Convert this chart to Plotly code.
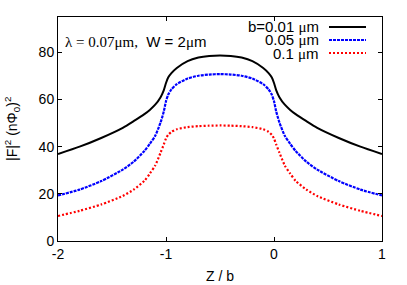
import plotly.graph_objects as go

z = [-2.0, -1.8, -1.6, -1.4, -1.3, -1.2, -1.15, -1.1, -1.05, -1.02, -1.0, -0.98, -0.95, -0.9, -0.8, -0.7, -0.6,
     -0.5, -0.4, -0.3, -0.2, -0.1, -0.05, -0.02, 0.0, 0.02, 0.05, 0.1, 0.15, 0.2, 0.3, 0.4, 0.6, 0.8, 1.0]

f_b001 = [36.9, 40.0, 43.7, 48.0, 50.8, 53.8, 55.6, 57.8, 61.0, 64.0, 67.0, 69.3, 71.2, 73.4, 76.3, 77.8, 78.5,
          78.7, 78.5, 77.8, 76.3, 73.4, 71.2, 69.3, 67.0, 64.0, 61.0, 57.8, 55.6, 53.8, 50.8, 48.0, 43.7, 40.0, 36.9]
f_b005 = [19.3, 21.8, 25.4, 30.3, 33.6, 38.2, 41.2, 44.6, 50.3, 55.0, 59.3, 62.0, 64.3, 66.5, 68.9, 70.1, 70.6,
          70.8, 70.6, 70.1, 68.9, 66.5, 64.3, 62.0, 59.3, 55.0, 50.3, 44.6, 41.2, 38.2, 33.6, 30.3, 25.4, 21.8, 19.3]
f_b01 = [10.6, 12.8, 15.5, 19.1, 21.8, 25.5, 28.6, 32.0, 37.5, 41.0, 43.5, 45.0, 46.3, 47.4, 48.3, 48.7, 48.9,
         49.0, 48.9, 48.7, 48.3, 47.4, 46.3, 45.0, 43.5, 41.0, 37.5, 32.0, 28.6, 25.5, 21.8, 19.1, 15.5, 12.8, 10.6]

labels = ["b=0.01 \u03bcm", "0.05 \u03bcm", "0.1 \u03bcm"]
colors = ["#000000", "#0000ff", "#ff0000"]
dashes = ["solid", "3px,1px", "2px,2px"]
series = [f_b001, f_b005, f_b01]

x_ticks = [-2, -1, 0, 1]
y_ticks = [0, 20, 40, 60, 80]
x_title = "Z / b"
y_title = "|F|<sup>2</sup> (n\u03a6<sub>0</sub>)<sup>2</sup>"

FONT = "Liberation Sans, Arial, sans-serif"
SERIF = "Liberation Serif, Times New Roman, serif"
FS = 14
FS_KEY = 15

# plot area in pixels (left, top, width, height) for placing layout texts
PL, PT, PW, PH = 58, 17, 324, 224


def px(xp):
    return (xp - PL) / PW


def py(yp):
    return 1 - (yp - PT) / PH


fig = go.Figure()
for ys, lab, c, d in zip(series, labels, colors, dashes):
    fig.add_trace(go.Scatter(x=z, y=ys, mode="lines", name=lab, showlegend=False,
                             line=dict(color=c, width=2 if d == "solid" else 2.2, dash=d, shape="spline", smoothing=0.6)))

# gnuplot-style key: text right-aligned, sample line to the right
row_y = [27, 40, 53]
for lab, c, d, ry in zip(labels, colors, dashes, row_y):
    txt = lab.replace("\u03bcm", "<span style='font-family:%s'>\u03bc</span>m" % SERIF)
    fig.add_annotation(x=px(321), y=py(ry), xref="paper", yref="paper", text=txt,
                       showarrow=False, xanchor="right", yanchor="middle",
                       font=dict(family=FONT, size=FS_KEY, color="black"))
    fig.add_shape(type="line", xref="paper", yref="paper",
                  x0=px(329), x1=px(366), y0=py(ry), y1=py(ry),
                  line=dict(color=c, width=2 if d == "solid" else 2.2, dash=d))

fig.add_annotation(x=px(63), y=py(41.5), xref="paper", yref="paper",
                   text="<span style='font-family:%s'>\u03bb = 0.07\u03bcm,</span>  W = 2<span style='font-family:%s'>\u03bc</span>m" % (SERIF, SERIF),
                   showarrow=False, xanchor="left", yanchor="middle",
                   font=dict(family=FONT, size=FS_KEY, color="black"))

# axis titles
fig.add_annotation(x=px(220), y=py(275.5), xref="paper", yref="paper", text=x_title,
                   showarrow=False, xanchor="center", yanchor="middle",
                   font=dict(family=FONT, size=FS, color="black"))
fig.add_annotation(x=px(12), y=py(129), xref="paper", yref="paper", text=y_title, textangle=-90,
                   showarrow=False, xanchor="center", yanchor="middle",
                   font=dict(family=FONT, size=FS, color="black"))

axis_common = dict(showline=True, linecolor="black", linewidth=1, mirror="allticks", ticks="inside",
                   ticklen=4, tickcolor="black", showgrid=False, zeroline=False,
                   tickfont=dict(family=FONT, size=FS, color="black"))

fig.update_xaxes(range=[-2, 1], tickvals=x_ticks, ticktext=[str(v) for v in x_ticks], **axis_common)
fig.update_yaxes(range=[0, 95], tickvals=y_ticks, ticktext=[str(v) for v in y_ticks], **axis_common)

fig.update_layout(width=407, height=285, margin=dict(l=PL, r=407 - PL - PW, t=PT, b=285 - PT - PH, autoexpand=False),
                  paper_bgcolor="white", plot_bgcolor="white", showlegend=False)

fig.write_html("out.html", config={"displayModeBar": False},
               post_script="document.body.style.margin='0px';")
